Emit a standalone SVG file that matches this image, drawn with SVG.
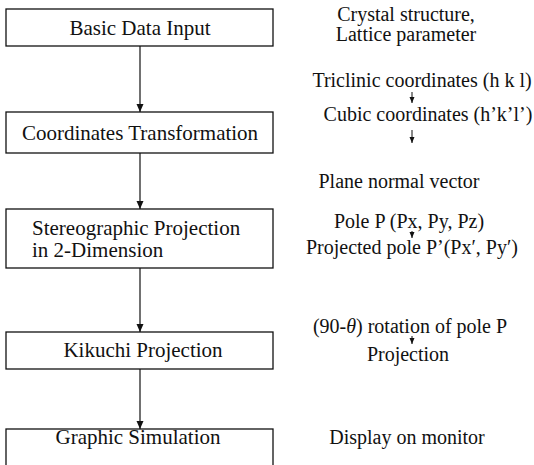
<svg xmlns="http://www.w3.org/2000/svg" width="534" height="465" viewBox="0 0 534 465">
<defs>
<style>
.box{fill:#fff;stroke:#111;stroke-width:1.3}
.lbl{font-family:"Liberation Serif","Times New Roman",serif;font-size:21px;fill:#111}
.note{font-family:"Liberation Serif","Times New Roman",serif;font-size:20px;fill:#111;text-anchor:middle}
.edge{stroke:#111;stroke-width:1.2;fill:none}
.small{stroke:#111;stroke-width:1;fill:none}
</style>
<marker id="ah" viewBox="0 0 8 8" refX="8" refY="4" markerWidth="8" markerHeight="8" markerUnits="userSpaceOnUse" orient="auto">
<path d="M0,0.5 L8,4 L0,7.5 Z" fill="#111"/>
</marker>
<marker id="sh" viewBox="0 0 6 6" refX="6" refY="3" markerWidth="6" markerHeight="6" markerUnits="userSpaceOnUse" orient="auto">
<path d="M0,0.5 L6,3 L0,5.5 Z" fill="#111"/>
</marker>
</defs>
<rect width="534" height="465" fill="#fff"/>

<g id="connectors">
<line class="edge" x1="140" y1="46" x2="140" y2="112" marker-end="url(#ah)"/>
<line class="edge" x1="140" y1="153" x2="140" y2="209" marker-end="url(#ah)"/>
<line class="edge" x1="140" y1="268" x2="140" y2="332" marker-end="url(#ah)"/>
<line class="edge" x1="140" y1="369" x2="140" y2="429" marker-end="url(#ah)"/>
<line class="small" x1="412" y1="92" x2="412" y2="103" marker-end="url(#sh)"/>
<line class="small" x1="412" y1="130" x2="412" y2="143" marker-end="url(#sh)"/>
<line class="small" x1="412" y1="231" x2="412" y2="238" marker-end="url(#sh)"/>
<line class="small" x1="412" y1="336" x2="412" y2="344" marker-end="url(#sh)"/>
</g>

<g id="n1">
<rect class="box" x="6" y="9" width="267" height="37"/>
<text class="lbl" x="140" y="35" text-anchor="middle">Basic Data Input</text>
</g>
<g id="n2">
<rect class="box" x="6" y="112" width="267" height="41"/>
<text class="lbl" x="140" y="140" text-anchor="middle">Coordinates Transformation</text>
</g>
<g id="n3">
<rect class="box" x="6" y="209" width="267" height="59"/>
<text class="lbl" x="32" y="235">Stereographic Projection</text>
<text class="lbl" x="32" y="257">in 2-Dimension</text>
</g>
<g id="n4">
<rect class="box" x="6" y="332" width="267" height="37"/>
<text class="lbl" x="143" y="357" text-anchor="middle">Kikuchi Projection</text>
</g>
<g id="n5">
<rect class="box" x="6" y="429" width="267" height="46"/>
<text class="lbl" x="138" y="444" text-anchor="middle">Graphic Simulation</text>
</g>

<g id="notes">
<text class="note" x="406" y="21">Crystal structure,</text>
<text class="note" x="406" y="41">Lattice parameter</text>
<text class="note" x="422" y="87">Triclinic coordinates (h k l)</text>
<text class="note" x="428" y="121">Cubic coordinates (h’k’l’)</text>
<text class="note" x="399" y="188">Plane normal vector</text>
<text class="note" x="409" y="228">Pole P (Px, Py, Pz)</text>
<text class="note" x="412" y="254">Projected pole P’(Px′, Py′)</text>
<text class="note" x="410" y="333">(90-<tspan font-style="italic">θ</tspan>) rotation of pole P</text>
<text class="note" x="408" y="361">Projection</text>
<text class="note" x="407" y="444">Display on monitor</text>
</g>
</svg>
